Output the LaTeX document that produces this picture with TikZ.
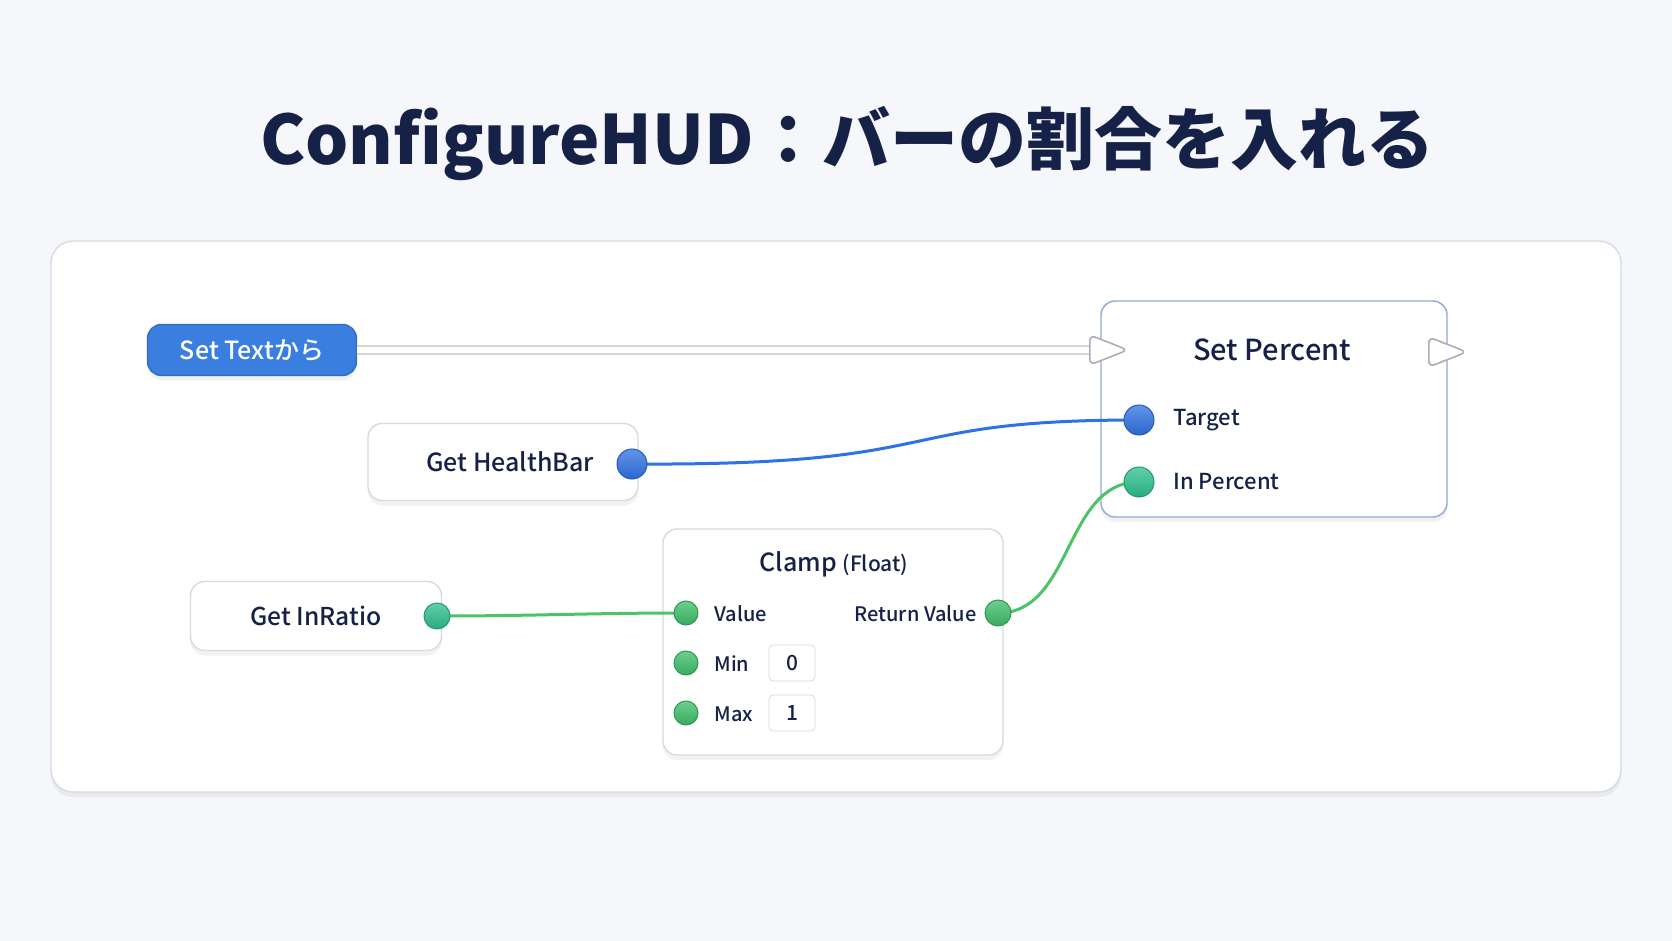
\documentclass[tikz,border=0pt]{standalone}
\usepackage{fontspec}
\setmainfont{Noto Sans CJK JP}
\newfontfamily\mdfont{Noto Sans CJK JP}[UprightFont=* Medium]
\usetikzlibrary{shapes.geometric,shadows}
\definecolor{navy}{HTML}{152146}
\definecolor{bgcol}{HTML}{F6F7FA}
\definecolor{edgecol}{HTML}{D6DAE2}
\definecolor{frameblue}{HTML}{8FA9D8}
\definecolor{pinblue}{HTML}{2F72E3}
\definecolor{btnblue}{HTML}{3A7FE0}
\definecolor{pingreen}{HTML}{3DBE68}
\definecolor{pinteal}{HTML}{2DBF8E}
\definecolor{wiregreen}{HTML}{4CC466}
\pgfdeclarelayer{wire}
\pgfdeclarelayer{front}
\pgfsetlayers{main,wire,front}
\newcommand{\fs}[1]{\mdfont\fontsize{#1}{1.2\dimexpr#1pt\relax}\selectfont}
\begin{document}
\begin{tikzpicture}[x=0.5pt,y=-0.5pt,every node/.style={text=navy}]
  \tikzset{
    card/.style={draw=edgecol,fill=white,rounded corners=7pt,line width=0.7pt,
      drop shadow={opacity=0.10,shadow xshift=0pt,shadow yshift=-2.5pt}},
    pin/.style={circle,inner sep=0pt,minimum size=#1,line width=0.5pt},
    bluepin/.style={pin=15pt,draw=pinblue!80!black,top color=pinblue!75!white,bottom color=pinblue!90!black},
    greenpin/.style={pin=#1,draw=pingreen!80!black,top color=pingreen!75!white,bottom color=pingreen!90!black},
    tealpin/.style={pin=#1,draw=pinteal!80!black,top color=pinteal!75!white,bottom color=pinteal!90!black},
    execpin/.style={isosceles triangle,isosceles triangle apex angle=85,isosceles triangle stretches,
      minimum width=15pt,minimum height=19pt,inner sep=0pt,draw=edgecol!80!black,fill=white,
      line width=0.8pt,rounded corners=3pt},
    lbl/.style={anchor=west,inner sep=0pt,font=\fs{10}},
    valbox/.style={draw=edgecol,fill=white,rounded corners=2pt,minimum width=23pt,
      minimum height=18pt,inner sep=0pt,font=\fs{10.5}},
    wire/.style={line width=1.5pt,line cap=round}
  }
  \fill[bgcol] (0,0) rectangle (1672,941);
  \useasboundingbox (0,0) rectangle (1672,941);
  \node[font=\fontsize{34}{40}\selectfont\bfseries] (title) at (847,144) {ConfigureHUD：バーの割合を入れる};
  \draw[card,rounded corners=11pt] (51,241) rectangle (1621,792);

  \node[card,fill=btnblue,draw=btnblue!85!black,text=white,minimum width=104.5pt,
    minimum height=25.5pt,font=\fs{12.5}] (settext) at (252,350) {Set Textから};
  \node[card,draw=frameblue,minimum width=173pt,minimum height=108pt] (setpct) at (1274,409) {};
  \node[font=\fs{14.5}] (setpcttitle) at (1272,350) {Set Percent};
  \node[card,minimum width=135pt,minimum height=38.5pt,font=\fs{12.5}] (health) at (503,462) {\hspace{7pt}Get HealthBar};
  \node[card,minimum width=125.5pt,minimum height=34.5pt,font=\fs{12.3}] (ratio) at (316,616) {Get InRatio};
  \node[card,minimum width=170pt,minimum height=113pt] (clamp) at (833,642) {};
  \node (clamptitle) at (834,564) {\fs{12.5}Clamp {\fs{10.5}(Float)}};

  \node[lbl,font=\fs{11}] (ltarget) at (1173,420) {Target};
  \node[lbl,font=\fs{11}] (lpct) at (1173,482) {In Percent};
  \node[lbl] (lvalue) at (714,614) {Value};
  \node[lbl] (lmin) at (714,664) {Min};
  \node[lbl] (lmax) at (714,714) {Max};
  \node[lbl,anchor=east] (lret) at (977,614) {Return Value};
  \node[valbox] (minval) at (792,663) {0};
  \node[valbox] (maxval) at (792,713) {1};

  \begin{pgfonlayer}{front}
    \node[execpin] (execin) at (1100,350) {};
    \node[execpin] (execout) at (1439,352) {};
    \node[bluepin] (pinhealth) at (632,464) {};
    \node[bluepin] (pintarget) at (1139,420) {};
    \node[tealpin=15pt] (pinpct) at (1139,482) {};
    \node[tealpin=13pt] (pinratio) at (437,616) {};
    \node[greenpin=12pt] (pinvalue) at (686,613) {};
    \node[greenpin=12pt] (pinmin) at (686,663) {};
    \node[greenpin=12pt] (pinmax) at (686,713) {};
    \node[greenpin=13pt] (pinret) at (998,613) {};
  \end{pgfonlayer}

  \begin{pgfonlayer}{wire}
    \draw[draw=black!17,double=white,double distance=2.6pt,line width=1pt]
      (settext.east) -- (execin.center);
    \draw[wire,pinblue] (pinhealth.center) .. controls (960,466) and (880,420) .. (pintarget.center);
    \draw[wire,wiregreen] (pinratio.center) to[out=0,in=180] (pinvalue.center);
    \draw[wire,wiregreen] (pinret.center) to[out=0,in=180] (pinpct.center);
  \end{pgfonlayer}
\end{tikzpicture}
\end{document}
